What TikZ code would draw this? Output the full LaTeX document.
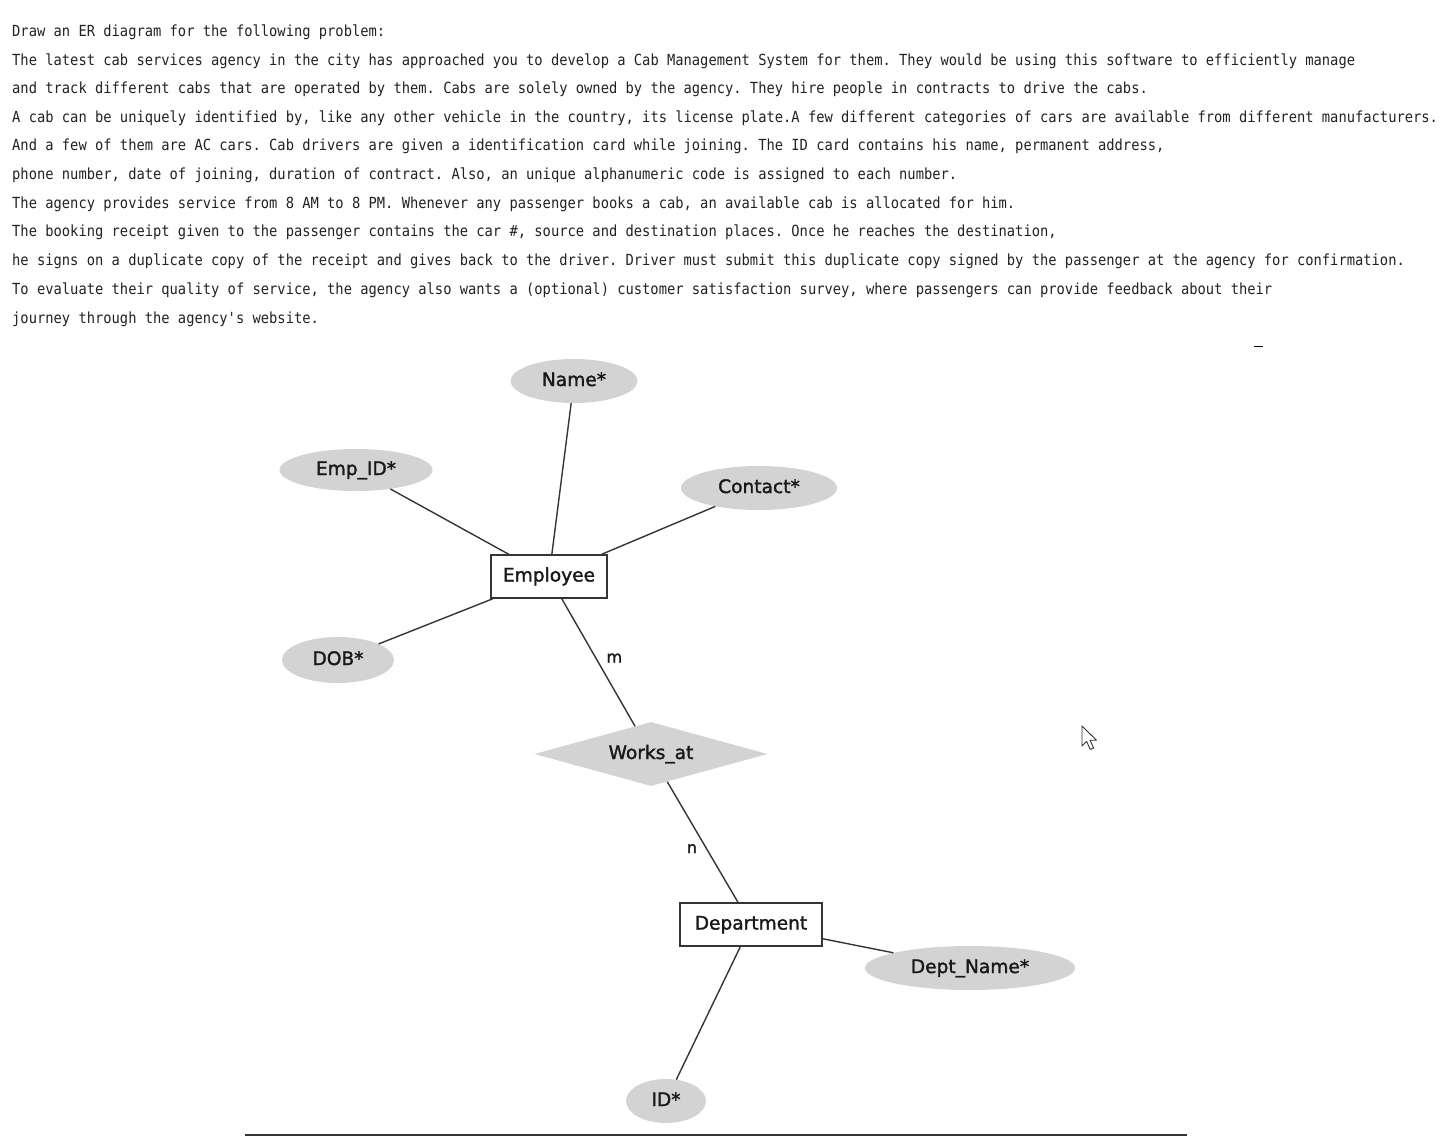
\documentclass[tikz,border=0pt]{standalone}
\usepackage{fontspec}
\usetikzlibrary{shapes.geometric}
\newfontfamily\probfont[FakeStretch=0.9]{DejaVu Sans Mono}
\newfontfamily\erfont[FakeBold=1.6]{DejaVu Sans}
\definecolor{inkgray}{HTML}{222222}
\definecolor{attrfill}{HTML}{D3D3D3}
\definecolor{edgegray}{HTML}{353535}
\frenchspacing
\begin{document}
\begin{tikzpicture}[x=1pt,y=-1pt,
  probline/.style={anchor=base west, inner sep=0, text=inkgray,
    font=\probfont\fontsize{15.3}{18}\selectfont},
  erlabel/.style={font=\erfont\fontsize{18.6}{22}\selectfont, text=black!90,
    text height=14pt, text depth=4pt},
  attr/.style={ellipse, fill=attrfill, inner sep=0, erlabel},
  entity/.style={rectangle, draw=edgegray, line width=1.5pt, fill=white,
    inner sep=0, erlabel},
  rel/.style={diamond, fill=attrfill, inner sep=0, erlabel, aspect=3.64,
    minimum width=233, minimum height=64},
  link/.style={draw=edgegray, line width=1.4pt},
  card/.style={font=\erfont\fontsize{16}{18}\selectfont, inner sep=0, text=black!90}
]
\useasboundingbox (0,0) rectangle (1450,1136);
\fill[white] (0,0) rectangle (1450,1136);

% problem statement
\node[probline] (t1)  at (12,36)  {Draw an ER diagram for the following problem:};
\node[probline] (t2)  at (12,65)  {The latest cab services agency in the city has approached you to develop a Cab Management System for them. They would be using this software to efficiently manage};
\node[probline] (t3)  at (12,93)  {and track different cabs that are operated by them. Cabs are solely owned by the agency. They hire people in contracts to drive the cabs.};
\node[probline] (t4)  at (12,122) {A cab can be uniquely identified by, like any other vehicle in the country, its license plate.A few different categories of cars are available from different manufacturers.};
\node[probline] (t5)  at (12,150) {And a few of them are AC cars. Cab drivers are given a identification card while joining. The ID card contains his name, permanent address,};
\node[probline] (t6)  at (12,179) {phone number, date of joining, duration of contract. Also, an unique alphanumeric code is assigned to each number.};
\node[probline] (t7)  at (12,208) {The agency provides service from 8 AM to 8 PM. Whenever any passenger books a cab, an available cab is allocated for him.};
\node[probline] (t8)  at (12,236) {The booking receipt given to the passenger contains the car \#, source and destination places. Once he reaches the destination,};
\node[probline] (t9)  at (12,265) {he signs on a duplicate copy of the receipt and gives back to the driver. Driver must submit this duplicate copy signed by the passenger at the agency for confirmation.};
\node[probline] (t10) at (12,294) {To evaluate their quality of service, the agency also wants a (optional) customer satisfaction survey, where passengers can provide feedback about their};
\node[probline] (t11) at (12,323) {journey through the agency's website.};

% ER diagram
\node[attr, minimum width=127, minimum height=44] (name)    at (574,381)  {Name*};
\node[attr, minimum width=153, minimum height=42] (empid)   at (356,470)  {Emp\_ID*};
\node[attr, minimum width=156, minimum height=44] (contact) at (759,488)  {Contact*};
\node[attr, minimum width=112, minimum height=46] (dob)     at (338,660)  {DOB*};
\node[entity, minimum width=116, minimum height=43] (emp)   at (549,576.5) {Employee};
\node[rel] (works) at (651,754) {Works\_at};
\node[entity, minimum width=142, minimum height=43] (dept)  at (751,924.5) {Department};
\node[attr, minimum width=210, minimum height=44] (dname)   at (970,968)  {Dept\_Name*};
\node[attr, minimum width=80, minimum height=44]  (id)      at (666,1101) {ID*};

\path[link] (name) -- (emp);
\path[link] (empid) -- (emp);
\path[link] (contact) -- (emp);
\path[link] (dob) -- (emp);
\path[link] (emp) -- (works)
  node[card, pos=0.465, anchor=west, xshift=10pt] (cm) {m};
\path[link] (works) -- (dept)
  node[card, pos=0.53, anchor=east, xshift=-7pt, yshift=-3pt] (cn) {n};
\path[link] (dept) -- (dname);
\path[link] (dept) -- (id);

% small dash near the top right
\coordinate (dashA) at (1254,346.5);
\coordinate (dashB) at (1263,346.5);
\draw[line width=1.6pt, black] (dashA) -- (dashB);

% pointer
\draw[line width=0.9pt, draw=black!80, fill=white, line join=round]
  (1082,726) -- ++(0,20) -- ++(4.6,-4.6) -- ++(3.6,8) -- ++(3.4,-1.4)
  -- ++(-3.6,-7.8) -- ++(6.4,0) -- cycle;

% bottom rule
\coordinate (ruleA) at (245,1134.8);
\coordinate (ruleB) at (1187,1134.8);
\draw[line width=2pt, edgegray] (ruleA) -- (ruleB);
\end{tikzpicture}
\end{document}
